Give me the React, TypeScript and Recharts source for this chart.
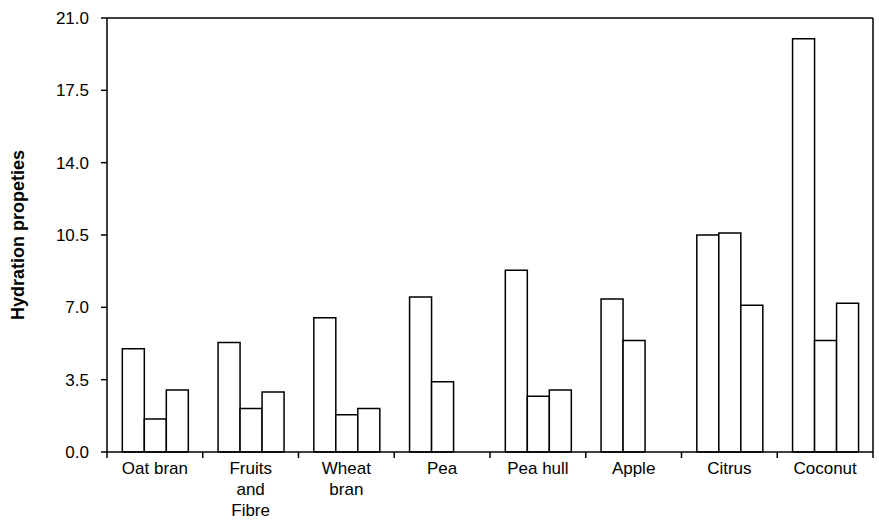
import React from 'react';
import { BarChart, Bar, XAxis, YAxis, ReferenceLine } from 'recharts';

const categories = ['Oat bran', 'Fruits\nand\nFibre', 'Wheat\nbran', 'Pea', 'Pea hull', 'Apple', 'Citrus', 'Coconut'];
const seriesA = [5.0, 5.3, 6.5, 7.5, 8.8, 7.4, 10.5, 20.0];
const seriesB = [1.6, 2.1, 1.8, 3.4, 2.7, 5.4, 10.6, 5.4];
const seriesC = [3.0, 2.9, 2.1, null, 3.0, null, 7.1, 7.2];
const yTicks = [0, 3.5, 7, 10.5, 14, 17.5, 21];

const data = categories.map((name, i) => ({ name, a: seriesA[i], b: seriesB[i], c: seriesC[i] }));

const font = '"Liberation Sans", Arial, sans-serif';

const CategoryTick = (props: any) => {
  const { x, y, payload } = props;
  const half = payload && payload.offset ? payload.offset : 48;
  const lines = String(payload.value).split('\n');
  return (
    <g>
      <line x1={x - half} y1={y - 8} x2={x - half} y2={y - 2} stroke="#000" strokeWidth={1.5} />
      {props.index === categories.length - 1 && (
        <line x1={x + half} y1={y - 8} x2={x + half} y2={y - 2} stroke="#000" strokeWidth={1.5} />
      )}
      <text x={x} y={y} textAnchor="middle" fontSize={17} fontFamily={font} fill="#000">
        {lines.map((l, k) => (
          <tspan key={k} x={x} dy={k === 0 ? 14 : 21}>{l}</tspan>
        ))}
      </text>
    </g>
  );
};

export default function App() {
  return (
    <div style={{ position: 'absolute', left: 0, top: 0, background: '#fff' }}>
      <BarChart width={879} height={525} data={data} margin={{ top: 18, right: 3, bottom: 0, left: 0 }}
        barCategoryGap="16%" barGap={0}>
        <XAxis dataKey="name" interval={0} height={73} tickLine={false}
          axisLine={{ stroke: '#000', strokeWidth: 1.5 }} tick={<CategoryTick />} />
        <YAxis yAxisId="left" domain={[0, 21]} ticks={yTicks} interval={0} width={107}
          tickFormatter={(v: number) => v.toFixed(1)}
          axisLine={{ stroke: '#000', strokeWidth: 1.5 }} tickLine={{ stroke: '#000', strokeWidth: 1.5 }}
          tickSize={6} tickMargin={12}
          tick={{ fill: '#000', fontSize: 17, fontFamily: font }}
          label={{ value: 'Hydration propeties', angle: -90, position: 'insideLeft', offset: 18,
            style: { textAnchor: 'middle', fontWeight: 'bold', fontSize: 18, fontFamily: font, fill: '#000' } }} />
        <YAxis yAxisId="right" orientation="right" domain={[0, 21]} width={3} tick={false} tickLine={false}
          axisLine={{ stroke: '#000', strokeWidth: 1.5 }} />
        <ReferenceLine yAxisId="left" y={21} stroke="#000" strokeWidth={1.5} />
        <Bar yAxisId="left" dataKey="a" fill="#fff" stroke="#000" strokeWidth={1.5} isAnimationActive={false} />
        <Bar yAxisId="left" dataKey="b" fill="#fff" stroke="#000" strokeWidth={1.5} isAnimationActive={false} />
        <Bar yAxisId="left" dataKey="c" fill="#fff" stroke="#000" strokeWidth={1.5} isAnimationActive={false} />
      </BarChart>
    </div>
  );
}
